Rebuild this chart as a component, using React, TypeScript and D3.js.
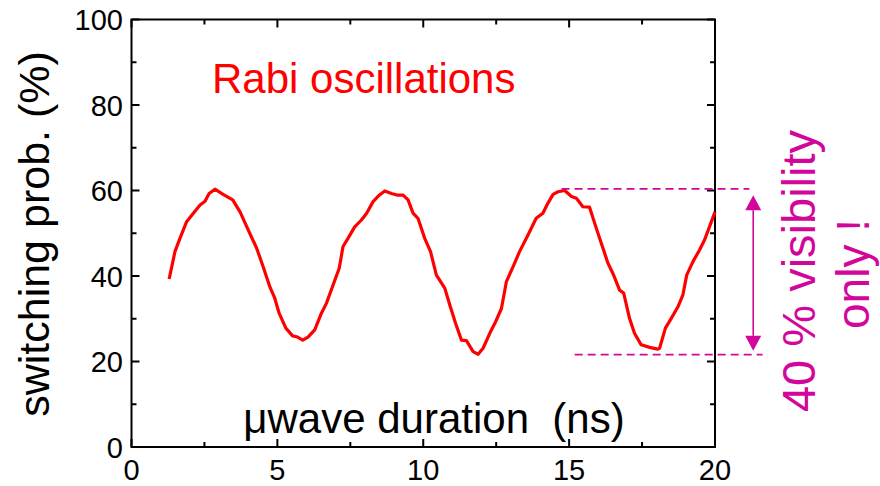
import React from "react";
import * as d3 from "d3";

const durationNs = [
  1.29, 1.49, 1.66, 1.89, 2.12, 2.35, 2.52, 2.66, 2.86, 3.14, 3.47, 3.72, 4.0, 4.29, 4.51, 4.74, 4.91, 5.06,
  5.29, 5.52, 5.66, 5.87, 6.05, 6.28, 6.51, 6.68, 6.91, 7.12, 7.25, 7.42, 7.65, 7.88, 8.06, 8.28, 8.49, 8.68,
  8.91, 9.13, 9.31, 9.48, 9.65, 9.82, 10.05, 10.25, 10.45, 10.6, 10.74, 10.91, 11.11, 11.31, 11.48, 11.71,
  11.88, 12.05, 12.28, 12.48, 12.68, 12.85, 13.08, 13.3, 13.59, 13.87, 14.1, 14.27, 14.45, 14.62, 14.85,
  15.08, 15.25, 15.47, 15.7, 15.93, 16.16, 16.33, 16.5, 16.73, 16.87, 17.07, 17.24, 17.47, 17.76, 18.04,
  18.1, 18.3, 18.5, 18.73, 18.9, 19.03, 19.24, 19.47, 19.64, 19.81, 20.0,
];
const switchingProb = [
  39.3, 45.7, 48.8, 52.7, 54.7, 56.6, 57.5, 59.3, 60.3, 59.1, 57.8, 55.0, 50.8, 46.5, 42.2, 37.5, 34.8, 31.3,
  27.8, 26.0, 25.8, 25.0, 25.7, 27.4, 31.3, 33.6, 37.9, 41.8, 46.9, 48.8, 51.5, 53.1, 54.7, 57.4, 58.9, 59.9,
  59.3, 58.9, 58.9, 57.8, 54.7, 53.5, 48.8, 45.7, 40.2, 38.6, 37.1, 33.2, 28.9, 25.0, 24.9, 22.3,
  21.7, 23.1, 26.6, 29.3, 32.4, 38.7, 42.2, 45.7, 49.6, 53.5, 54.7, 57.0, 59.1, 59.7, 60.0,
  58.6, 58.2, 56.2, 56.1, 51.2, 46.5, 43.0, 40.6, 36.7, 36.0, 30.1, 26.6, 23.9, 23.3, 22.9,
  23.1, 27.8, 30.1, 32.8, 35.6, 40.2, 43.3, 46.1, 48.4, 51.5, 55.0,
];

const xMajorTicks = [0, 5, 10, 15, 20];
const xMinorTicks = [2.5, 7.5, 12.5, 17.5];
const yMajorTicks = [0, 20, 40, 60, 80, 100];
const yMinorTicks = [10, 30, 50, 70, 90];

// annotation (data units)
const visHigh = 60.4;
const visLow = 21.6;
const highDashX = [14.74, 21.18];
const lowDashX = [15.19, 21.63];
const arrowX = 21.31;
const arrowY = [58.9, 22.5];

const FONT = "'Liberation Sans', Arial, Helvetica, sans-serif";
const MAGENTA = "#d3069c";

export default function App() {
  const W = 880, H = 486;
  const x = d3.scaleLinear().domain([0, 20]).range([131.5, 715]);
  const y = d3.scaleLinear().domain([0, 100]).range([447, 19.5]);
  const line = d3
    .line<number>()
    .x((_, i) => x(durationNs[i]))
    .y((d) => y(d));
  const left = x(0), right = x(20), top = y(100), bottom = y(0);
  const majLen = 8, minLen = 5;

  const ax = x(arrowX);
  const yTop = y(arrowY[0]);
  const yBot = y(arrowY[1]);
  const ah = 15, aw = 8;

  return (
    <svg width={W} height={H} style={{ position: "absolute", left: 0, top: 0, background: "#fff" }} fontFamily={FONT}>
      <rect x={0} y={0} width={W} height={H} fill="#fff" />
      {/* frame */}
      <rect x={left} y={top} width={right - left} height={bottom - top} fill="none" stroke="#000" strokeWidth={2} />
      {/* x ticks */}
      {xMajorTicks.map((t) => (
        <g key={"xM" + t}>
          <line x1={x(t)} x2={x(t)} y1={bottom} y2={bottom - majLen} stroke="#000" strokeWidth={2} />
          <line x1={x(t)} x2={x(t)} y1={top} y2={top + majLen} stroke="#000" strokeWidth={2} />
          <text x={x(t)} y={479.5} textAnchor="middle" fontSize={29} fill="#000">
            {t}
          </text>
        </g>
      ))}
      {xMinorTicks.map((t) => (
        <g key={"xm" + t}>
          <line x1={x(t)} x2={x(t)} y1={bottom} y2={bottom - minLen} stroke="#000" strokeWidth={2} />
          <line x1={x(t)} x2={x(t)} y1={top} y2={top + minLen} stroke="#000" strokeWidth={2} />
        </g>
      ))}
      {/* y ticks */}
      {yMajorTicks.map((t) => (
        <g key={"yM" + t}>
          <line x1={left} x2={left + majLen} y1={y(t)} y2={y(t)} stroke="#000" strokeWidth={2} />
          <line x1={right} x2={right - majLen} y1={y(t)} y2={y(t)} stroke="#000" strokeWidth={2} />
          <text x={123} y={y(t) + 10.5} textAnchor="end" fontSize={29} fill="#000">
            {t}
          </text>
        </g>
      ))}
      {yMinorTicks.map((t) => (
        <g key={"ym" + t}>
          <line x1={left} x2={left + minLen} y1={y(t)} y2={y(t)} stroke="#000" strokeWidth={2} />
          <line x1={right} x2={right - minLen} y1={y(t)} y2={y(t)} stroke="#000" strokeWidth={2} />
        </g>
      ))}
      {/* data line */}
      <path d={line(switchingProb) || ""} fill="none" stroke="#ff0000" strokeWidth={3.2} strokeLinejoin="round" />
      {/* labels */}
      <text x={434} y={433} textAnchor="middle" fontSize={42} fill="#000" style={{ whiteSpace: "pre" }}>
        {"\u03bcwave duration  (ns)"}
      </text>
      <text
        transform={`translate(49,234) rotate(-90)`}
        textAnchor="middle"
        fontSize={43}
        fill="#000"
      >
        switching prob. (%)
      </text>
      <text x={212} y={93} fontSize={42} fill="#ff0000">
        Rabi oscillations
      </text>
      {/* annotation */}
      <line x1={x(highDashX[0])} x2={x(highDashX[1])} y1={y(visHigh)} y2={y(visHigh)} stroke={MAGENTA} strokeWidth={1.8} strokeDasharray="8,5" />
      <line x1={x(lowDashX[0])} x2={x(lowDashX[1])} y1={y(visLow)} y2={y(visLow)} stroke={MAGENTA} strokeWidth={1.8} strokeDasharray="8,5" />
      <line x1={ax} x2={ax} y1={yTop + ah} y2={yBot - ah} stroke={MAGENTA} strokeWidth={1.6} />
      <path d={`M${ax},${yTop} L${ax - aw},${yTop + ah} L${ax + aw},${yTop + ah} Z`} fill={MAGENTA} />
      <path d={`M${ax},${yBot} L${ax - aw},${yBot - ah} L${ax + aw},${yBot - ah} Z`} fill={MAGENTA} />
      <text transform={`translate(815,271) rotate(-90)`} textAnchor="middle" fontSize={47} fill={MAGENTA}>
        40 % visibility
      </text>
      <text transform={`translate(869,274) rotate(-90)`} textAnchor="middle" fontSize={46} fill={MAGENTA}>
        only !
      </text>
    </svg>
  );
}
